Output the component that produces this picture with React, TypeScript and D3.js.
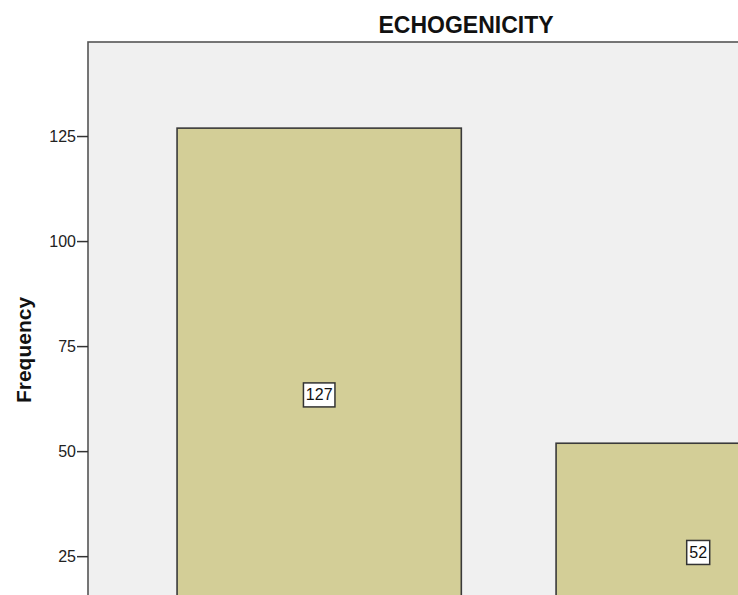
import React from "react";
import * as d3 from "d3";

const categories = ["Hypoechoic", "Isoechoic"];
const frequencies = [127, 52];
const yTicks = [25, 50, 75, 100, 125];
const title = "ECHOGENICITY";
const yLabel = "Frequency";

const W = 738;
const H = 595;
const frameLeft = 88;
const frameTop = 42;
const frameBottom = 661.7;
const frameRight = 929.4;
const yMax = 147.5;

export default function App() {
  const x = d3
    .scaleBand<string>()
    .domain(categories)
    .range([frameLeft, frameRight])
    .paddingInner(0.25)
    .paddingOuter(0.235);
  const y = d3.scaleLinear().domain([0, yMax]).range([frameBottom, frameTop]);
  const font = "Arial, 'Liberation Sans', sans-serif";

  return (
    <div style={{ position: "absolute", left: 0, top: 0, width: W, height: H, overflow: "hidden", background: "#fff" }}>
      <svg width={W} height={H} style={{ display: "block" }}>
        <rect
          x={frameLeft}
          y={frameTop}
          width={frameRight - frameLeft + 200}
          height={frameBottom - frameTop}
          fill="#f0f0f0"
          stroke="#555"
          strokeWidth={1.6}
        />
        {categories.map((c, i) => {
          const bx = x(c)!;
          const bw = x.bandwidth();
          const top = y(frequencies[i]);
          const cx = bx + bw / 2;
          const cy = (top + y(0)) / 2;
          const label = String(frequencies[i]);
          const boxW = label.length * 8.5 + 6;
          return (
            <g key={c}>
              <rect x={bx} y={top} width={bw} height={y(0) - top} fill="#d3ce97" stroke="#3a3a3a" strokeWidth={1.6} />
              <rect x={cx - boxW / 2} y={cy - 12} width={boxW} height={24} fill="#fff" stroke="#333" strokeWidth={1.5} />
              <text x={cx} y={cy + 5.5} textAnchor="middle" fontFamily={font} fontSize={16} fill="#111">
                {label}
              </text>
            </g>
          );
        })}
        {yTicks.map((t) => (
          <g key={t}>
            <line x1={frameLeft - 11} x2={frameLeft} y1={y(t)} y2={y(t)} stroke="#333" strokeWidth={1.5} />
            <text x={frameLeft - 12} y={y(t) + 5.5} textAnchor="end" fontFamily={font} fontSize={16} fill="#222">
              {t}
            </text>
          </g>
        ))}
        <text x={466} y={33} textAnchor="middle" fontFamily={font} fontSize={23} fontWeight="bold" fill="#111">
          {title}
        </text>
        <text
          transform={`translate(31,350) rotate(-90)`}
          textAnchor="middle"
          fontFamily={font}
          fontSize={21}
          fontWeight="bold"
          fill="#111"
        >
          {yLabel}
        </text>
      </svg>
    </div>
  );
}
